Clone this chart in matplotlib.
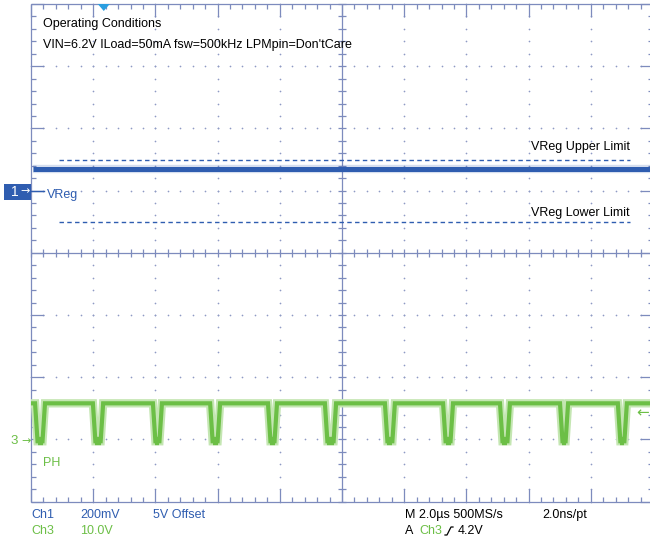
import numpy as np
import matplotlib
matplotlib.use("Agg")
import matplotlib.pyplot as plt
from matplotlib.collections import LineCollection
from matplotlib.patches import Rectangle, Polygon

plt.rcParams['font.family'] = ['Liberation Sans', 'DejaVu Sans']

# ---- scope settings ----
time_per_div = 2.0          # us/div
ch1_volts_per_div = 0.2     # V/div
ch1_offset = 5.0            # V
ch1_ground_div = 1.0        # ch1 reference marker position (div)
ch3_volts_per_div = 10.0    # V/div
ch3_ground_div = -3.0       # ch3 reference marker position (div)
trigger_level = 4.2         # V
trigger_time = -7.66        # us

# ---- Ch1 (VReg) ----
vreg_level = 5.07           # V
vreg_upper_limit = 5.10     # V
vreg_lower_limit = 4.90     # V

# ---- Ch3 (PH) switch node ----
ph_high = 5.8               # V
ph_low = -0.3               # V
ph_fall = [-9.87, -8.01, -6.08, -4.24, -2.38, -0.55, 1.38, 3.25, 5.08, 7.01, 8.87]
ph_rise = [-9.55, -7.68, -5.79, -3.92, -2.09, -0.19, 1.70, 3.57, 5.40, 7.27, 9.16]
edge_time = 0.08            # us

W, H = 650, 537
fig = plt.figure(figsize=(W / 100, H / 100), dpi=100)
fig.patch.set_facecolor('white')

# graticule spans 10 x 8 divisions
left_px, top_px, div_px = 31, 4, 62.2
ax = fig.add_axes([left_px / W, 1 - (top_px + 8 * div_px) / H, 10 * div_px / W, 8 * div_px / H])
ax.set_xlim(-5, 5)
ax.set_ylim(-4, 4)
ax.axis('off')
ax.patch.set_alpha(0)

GRID = '#7d8bbd'
DOT = '#8e9ac4'
BLUE = '#2f5db0'
GREEN = '#6cbf46'
LIGHT_GREEN = '#c4e6b2'


def fx(x):
    return x / W


def fy(y):
    return 1 - y / H


px = 1.0 / div_px  # one pixel in divisions

# dotted grid lines at each major division
dots_x, dots_y = [], []
fine = np.arange(-5, 5.001, 0.2)
fine_y = np.arange(-4, 4.001, 0.2)
for gx in range(-4, 5):
    if gx == 0:
        continue
    dots_x += [gx] * len(fine_y)
    dots_y += list(fine_y)
for gy in range(-3, 4):
    if gy == 0:
        continue
    dots_x += list(fine)
    dots_y += [gy] * len(fine)
ax.scatter(dots_x, dots_y, s=1.5, color=DOT, linewidths=0, zorder=1, clip_on=False)

segs = []
# frame
segs += [[(-5, 4), (5, 4)], [(-5, -4), (5, -4)], [(-5, -4), (-5, 4)], [(5, -4), (5, 4)]]
# center cross
segs += [[(-5, 0), (5, 0)], [(0, -4), (0, 4)]]
# ticks on center cross
for x in fine:
    segs.append([(x, -4 * px), (x, 4 * px)])
for y in fine_y:
    segs.append([(-4 * px, y), (4 * px, y)])
# ticks on frame
for x in fine:
    major = abs(x - round(x)) < 1e-6
    L = (13 if major else 5) * px
    segs.append([(x, 4), (x, 4 - L)])
    segs.append([(x, -4), (x, -4 + L)])
for y in fine_y:
    major = abs(y - round(y)) < 1e-6
    L = (13 if major else 5) * px
    segs.append([(-5, y), (-5 + L, y)])
    segs.append([(5, y), (5 - L, y)])
ax.add_collection(LineCollection(segs, colors=GRID, linewidths=0.9, zorder=2, clip_on=False))

# ---- Ch1 trace ----
def ch1_div(v):
    return ch1_ground_div + (v - ch1_offset) / ch1_volts_per_div


y1 = ch1_div(vreg_level)
ax.plot([-4.97, 5], [y1, y1], color=BLUE, lw=6, alpha=0.2, solid_capstyle='butt', zorder=4)
ax.plot([-4.97, 5], [y1, y1], color=BLUE, lw=3.6, solid_capstyle='butt', zorder=5)

for lim in (vreg_upper_limit, vreg_lower_limit):
    yl = ch1_div(lim)
    ax.plot([-4.55, 4.63], [yl, yl], color=BLUE, lw=1.0, ls=(0, (3.2, 2.4)), zorder=4)

ax.text(fx(531), fy(147), 'VReg Upper Limit', transform=fig.transFigure,
        fontsize=9, va='center', ha='left', color='black')
ax.text(fx(531), fy(213), 'VReg Lower Limit', transform=fig.transFigure,
        fontsize=9, va='center', ha='left', color='black')

# ---- Ch3 trace ----
def ch3_div(v):
    return ch3_ground_div + v / ch3_volts_per_div


t = [-10.0]
v = [ph_high]
for f, r in zip(ph_fall, ph_rise):
    t += [f, f + edge_time, r - edge_time, r]
    v += [ph_high, ph_low, ph_low, ph_high]
t.append(10.0)
v.append(ph_high)
tx = np.array(t) / time_per_div
vy = np.array([ch3_div(a) for a in v])
ax.plot(tx, vy, color=LIGHT_GREEN, lw=6, zorder=4, solid_joinstyle='miter')
ax.plot(tx, vy, color=GREEN, lw=3.0, zorder=5, solid_joinstyle='miter')
# thicker settling band at the bottom of each pulse
for f, r in zip(ph_fall, ph_rise):
    ax.plot([(f + edge_time) / time_per_div, (r - edge_time) / time_per_div],
            [ch3_div(ph_low)] * 2, color=GREEN, lw=6, solid_capstyle='butt', zorder=5)

# ---- channel markers ----
fig.patches.append(Rectangle((fx(4), fy(200)), (31 - 4) / W, 16 / H, transform=fig.transFigure,
                             facecolor=BLUE, edgecolor='none'))
fig.text(fx(15), fy(192), '1', color='white', fontsize=10, ha='center', va='center')
fig.text(fx(25), fy(191), '→', color='white', fontsize=8, ha='center', va='center',
         family=['DejaVu Sans'])
ax.plot([-5, -5 + 13 * px], [ch1_ground_div, ch1_ground_div], color=BLUE, lw=1.0,
        clip_on=False, zorder=6)
fig.text(fx(47), fy(195), 'VReg', color=BLUE, fontsize=9, ha='left', va='center')

fig.text(fx(14), fy(441), '3', color=GREEN, fontsize=9.5, ha='center', va='center')
fig.text(fx(26), fy(441), '→', color=GREEN, fontsize=8, ha='center', va='center',
         family=['DejaVu Sans'])
fig.text(fx(43), fy(463), 'PH', color=GREEN, fontsize=9, ha='left', va='center')

# trigger level arrow on the right edge
yt = ch3_div(trigger_level)
ax.text(4.84, yt, '←', color=GREEN, fontsize=11, ha='center', va='center',
        family=['DejaVu Sans'], zorder=8, clip_on=False)

# trigger position marker
xt = trigger_time / time_per_div
ax.add_patch(Polygon([(xt - 6 * px, 4), (xt + 6 * px, 4), (xt, 4 - 7 * px)], closed=True,
                     facecolor='#2a9ee0', edgecolor='none', zorder=7, clip_on=False))

# ---- annotation text ----
fig.text(fx(43), fy(24), 'Operating Conditions', fontsize=9, ha='left', va='center')
fig.text(fx(43), fy(45), "VIN=6.2V ILoad=50mA fsw=500kHz LPMpin=Don'tCare", fontsize=9,
         ha='left', va='center')

# ---- readout ----
r1, r2 = 515, 531
fig.text(fx(31), fy(r1), 'Ch1', color=BLUE, fontsize=9, va='center')
fig.text(fx(80), fy(r1), '200mV', color=BLUE, fontsize=9, va='center')
fig.text(fx(153), fy(r1), '5V Offset', color=BLUE, fontsize=9, va='center')
fig.text(fx(31), fy(r2), 'Ch3', color=GREEN, fontsize=9, va='center')
fig.text(fx(80), fy(r2), '10.0V', color=GREEN, fontsize=9, va='center')
fig.text(fx(405), fy(r1), 'M 2.0\u00b5s 500MS/s', color='black', fontsize=9, va='center')
fig.text(fx(542), fy(r1), '2.0ns/pt', color='black', fontsize=9, va='center')
fig.text(fx(405), fy(r2), 'A', color='black', fontsize=9, va='center')
fig.text(fx(419), fy(r2), 'Ch3', color=GREEN, fontsize=9, va='center')
# rising-edge trigger glyph
fig.lines.append(plt.Line2D([fx(445), fx(447), fx(451), fx(453)],
                            [fy(535), fy(535), fy(527), fy(527)],
                            transform=fig.transFigure, color='black', lw=0.9))
fig.text(fx(458), fy(r2), '4.2V', color='black', fontsize=9, va='center')

fig.savefig('out.png', dpi=100, facecolor='white')
